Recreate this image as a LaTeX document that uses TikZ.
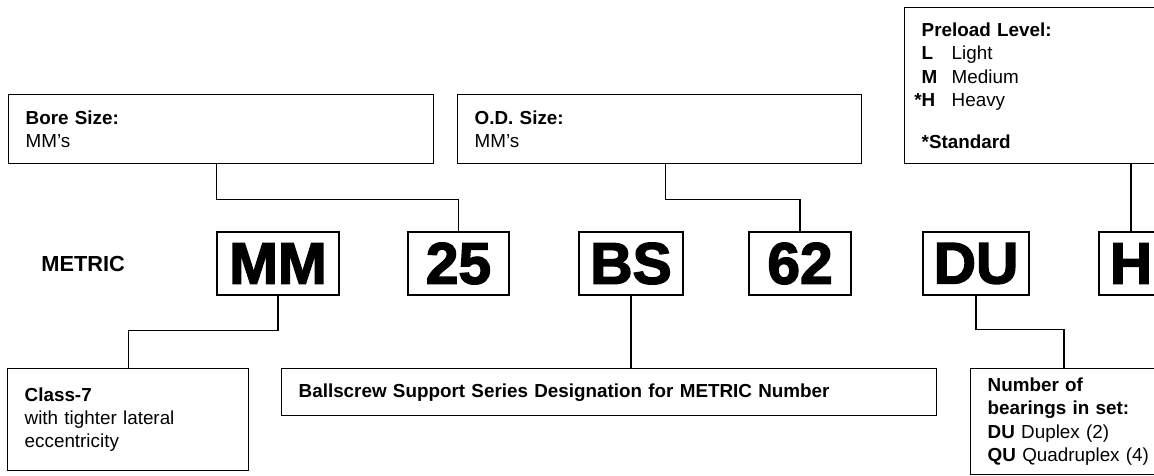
\documentclass[tikz,border=0pt]{standalone}
\usepackage{fontspec}
\setmainfont{Liberation Sans}
\newfontfamily\heavyfont[FakeBold=2.5]{Liberation Sans Bold}
\usetikzlibrary{calc}

\newcommand{\pix}{0.025cm}
\newcommand{\labelsize}{\fontsize{13.4}{16.6}\selectfont}
\newcommand{\codesize}{\heavyfont\fontsize{41.7}{41.7}\selectfont}
\newcommand{\code}[1]{\makebox[0.75cm][l]{\textbf{#1}}}

\begin{document}
\begin{tikzpicture}[x=\pix, y=-\pix, line width=1pt,
    infobox/.style={draw, anchor=north west, align=left, inner xsep=17*\pix, inner ysep=0pt, font=\labelsize},
    codebox/.style={draw, minimum height=63*\pix, inner sep=0pt, font=\codesize},
    link/.style={line width=0.8pt}]
    % Frame
    \clip (0, 0) rectangle (1154, 475);

    % Upper boxes
    \node[infobox, text width=391*\pix, minimum height=69*\pix] (bore) at (8, 94)
        {\textbf{Bore Size:}\\ MM's};
    \node[infobox, text width=370*\pix, minimum height=69*\pix] (od) at (457, 94)
        {\textbf{O.D. Size:}\\ MM's};
    \node[infobox, text width=266*\pix, minimum height=156*\pix] (preload) at (904, 7)
        {\textbf{Preload Level:}\\
         \code{L}Light\\
         \code{M}Medium\\
         \code{\llap{*}H}Heavy\\[0.46cm]
         \textbf{*Standard}};

    % Part number
    \node[anchor=west, font=\bfseries\fontsize{15.5}{15.5}\selectfont] (metric) at (36, 263.5) {METRIC};
    \node[codebox, minimum width=122*\pix] (mm) at (278, 263.5) {MM};
    \node[codebox, minimum width=101*\pix] (size25) at (458.5, 263.5) {25};
    \node[codebox, minimum width=104*\pix] (bs) at (631, 263.5) {BS};
    \node[codebox, minimum width=102*\pix] (size62) at (800, 263.5) {62};
    \node[codebox, minimum width=106*\pix] (du) at (976, 263.5) {DU};
    \node[codebox, minimum width=64*\pix] (h) at (1131, 263.5) {H};

    % Lower boxes
    \node[infobox, text width=207*\pix, minimum height=102*\pix] (class) at (7, 368)
        {\textbf{Class-7}\\ with tighter lateral\\ eccentricity};
    \node[infobox, text width=621*\pix, minimum height=47*\pix] (series) at (281, 368)
        {\textbf{Ballscrew Support Series Designation for METRIC Number}};
    \node[infobox, text width=166*\pix, minimum height=106*\pix] (number) at (970, 368)
        {\textbf{Number of}\\ \textbf{bearings in set:}\\ \textbf{DU} Duplex (2)\\ \textbf{QU} Quadruplex (4)};

    % Connectors
    \draw[link] (bore.south -| mm.west) -- ++(0, 35) -| (size25.north);
    \draw[link] ($(od.south west)!0.515!(od.south east)$) -- ++(0, 35) -| (size62.north);
    \draw[link] (preload.south -| h.north) -- (h.north);
    \draw[link] (mm.south) -- ++(0, 35) -| (class.north);
    \draw[link] (bs.south) -- (bs.south |- series.north);
    \draw[link] (du.south) -- ++(0, 34) -| ($(number.north west)+(94, 0)$);
\end{tikzpicture}
\end{document}
